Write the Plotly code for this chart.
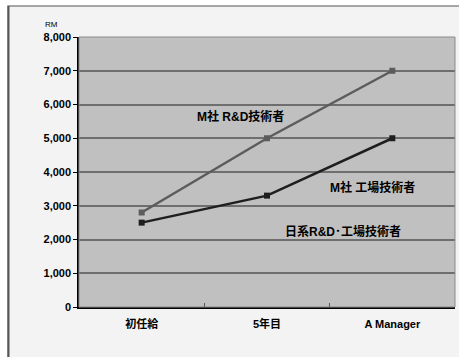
import plotly.graph_objects as go

categories = ["初任給", "5年目", "A Manager"]
rd_values = [2800, 5000, 7000]
factory_values = [2500, 3300, 5000]
y_ticks = [0, 1000, 2000, 3000, 4000, 5000, 6000, 7000, 8000]
y_tick_labels = ["0", "1,000", "2,000", "3,000", "4,000", "5,000", "6,000", "7,000", "8,000"]
series_labels = ["M社 R&D技術者", "M社 工場技術者", "日系R&D･工場技術者"]

W, H = 459, 357
L, R, T, B = 79, 4, 37, 50
pw, ph = W - L - R, H - T - B

def px(x):
    return (x - L) / pw

def py(y):
    return (H - B - y) / ph

FONT = "Liberation Sans, Arial, Noto Sans CJK JP"

fig = go.Figure()
fig.add_trace(go.Scatter(x=categories, y=rd_values, mode="lines+markers",
                         line=dict(color="#5c5c5c", width=2.5),
                         marker=dict(symbol="square", size=6, color="#5c5c5c")))
fig.add_trace(go.Scatter(x=categories, y=factory_values, mode="lines+markers",
                         line=dict(color="#1e1e1e", width=2.5),
                         marker=dict(symbol="square", size=6, color="#1e1e1e")))

# outer frame
fig.add_shape(type="rect", xref="paper", yref="paper", x0=px(8), x1=px(480), y0=py(6), y1=py(380),
              fillcolor="#f3f3f3", line=dict(color="#8a8a8a", width=1.5), layer="below")
fig.add_shape(type="line", xref="paper", yref="paper", x0=px(8.5), x1=px(8.5), y0=py(6), y1=py(380),
              line=dict(color="#555555", width=2), layer="below")
# plot area fill
fig.add_shape(type="rect", xref="paper", yref="paper", x0=0, x1=1, y0=0, y1=1,
              fillcolor="#c0c0c0", line=dict(width=0), layer="below")
# plot area border (top/right)
fig.add_shape(type="rect", xref="paper", yref="paper", x0=0, x1=1, y0=0, y1=1,
              line=dict(color="#8a8a8a", width=1), layer="above")

anns = [
    (series_labels[0], 240, 116),
    (series_labels[1], 372, 187),
    (series_labels[2], 343, 231),
]
for text, x, y in anns:
    fig.add_annotation(text=text, xref="paper", yref="paper", x=px(x), y=py(y),
                       showarrow=False, xanchor="center", yanchor="middle",
                       font=dict(size=12, color="#000000", family=FONT, weight="bold"))
fig.add_annotation(text="RM", xref="paper", yref="paper", x=px(51), y=py(25),
                   showarrow=False, xanchor="center", yanchor="middle",
                   font=dict(size=8, color="#000000", family=FONT))

fig.update_layout(
    width=W, height=H,
    margin=dict(l=L, r=R, t=T, b=B, pad=0),
    paper_bgcolor="#ffffff",
    plot_bgcolor="#c0c0c0",
    showlegend=False,
    font=dict(family=FONT, size=11, color="#000000"),
)
fig.update_xaxes(type="category", range=[-0.5, 2.5], showgrid=False,
                 showline=True, linecolor="#000000", linewidth=1.5,
                 ticks="inside", ticklen=4, tickcolor="#555555",
                 tickson="boundaries",
                 tickfont=dict(size=11, family=FONT, weight="bold"),
                 ticklabelstandoff=6, zeroline=False)
fig.update_yaxes(range=[0, 8000], tickvals=y_ticks, ticktext=y_tick_labels,
                 showgrid=True, gridcolor="#6e6e6e", gridwidth=1.5,
                 showline=True, linecolor="#000000", linewidth=1.5,
                 ticks="outside", ticklen=4, tickcolor="#000000",
                 tickfont=dict(size=11, family=FONT, weight="bold"),
                 zeroline=False)

fig.write_html("out.html")
